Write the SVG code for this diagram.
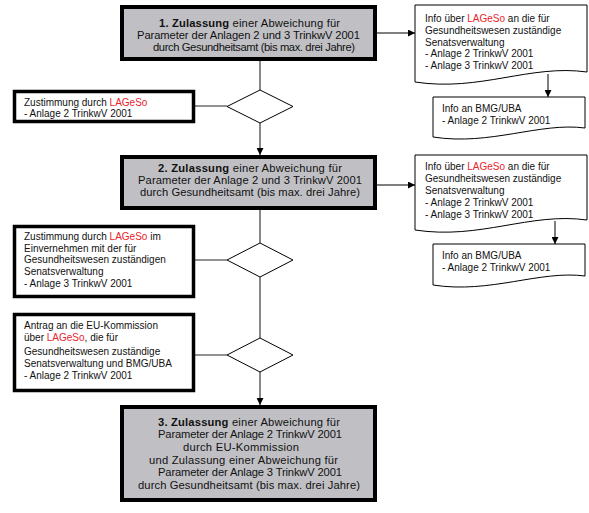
<svg xmlns="http://www.w3.org/2000/svg" width="589" height="513" viewBox="0 0 589 513">
<style>
text{font-family:"Liberation Sans",Arial,sans-serif;font-size:10px;fill:#111}
.m{font-size:11.2px;text-anchor:middle}
.b{font-weight:bold}
.r{fill:#e8252c}
.main{fill:#c0c0c4;stroke:#000;stroke-width:4}
.side{fill:#fff;stroke:#000;stroke-width:3.5}
.doc{fill:#fff;stroke:#000;stroke-width:1}
.dia{fill:#fff;stroke:#000;stroke-width:1}
.v{stroke:#888;stroke-width:2;fill:none}
.h{stroke:#555;stroke-width:1.3;fill:none}
.a{stroke:#000;stroke-width:1;fill:none}
</style>
<defs>
<marker id="ah" viewBox="0 0 10 10" refX="10" refY="5" markerWidth="7" markerHeight="7" markerUnits="userSpaceOnUse" orient="auto">
<path d="M0,0 L10,5 L0,10 Z" fill="#000"/>
</marker>
</defs>
<rect width="589" height="513" fill="#fff"/>
<g id="connectors">
<line class="v" x1="260" y1="61" x2="260" y2="90"/>
<line class="v" x1="260" y1="123" x2="260" y2="155" marker-end="url(#ah)"/>
<line class="v" x1="260" y1="210" x2="260" y2="243"/>
<line class="v" x1="260" y1="277" x2="260" y2="338"/>
<line class="v" x1="260" y1="372" x2="260" y2="405" marker-end="url(#ah)"/>
<line class="h" x1="195" y1="106" x2="227" y2="106"/>
<line class="h" x1="195" y1="260" x2="227" y2="260"/>
<line class="h" x1="195" y1="355" x2="227" y2="355"/>
<line class="a" x1="377" y1="33" x2="415" y2="33" marker-end="url(#ah)"/>
<line class="a" x1="377" y1="185" x2="415" y2="185" marker-end="url(#ah)"/>
<line class="a" x1="548" y1="74" x2="548" y2="97" marker-end="url(#ah)"/>
<line class="a" x1="555" y1="221" x2="555" y2="244" marker-end="url(#ah)"/>
</g>
<g id="box1">
<rect class="main" x="122" y="7" width="253" height="52"/>
<text class="m" x="249.5" y="27" textLength="181"><tspan class="b">1. Zulassung</tspan> einer Abweichung für</text>
<text class="m" x="248.5" y="39" textLength="223">Parameter der Anlagen 2 und 3 TrinkwV 2001</text>
<text class="m" x="254" y="51" textLength="202">durch Gesundheitsamt (bis max. drei Jahre)</text>
</g>
<g id="doc1">
<path class="doc" d="M415,5 H587 V72 C530,64 480,92 415,82 Z"/>
<text x="425" y="22">Info über <tspan class="r">LAGeSo</tspan> an die für</text>
<text x="425" y="34">Gesundheitswesen zuständige</text>
<text x="425" y="46">Senatsverwaltung</text>
<text x="425" y="57">- Anlage 2 TrinkwV 2001</text>
<text x="425" y="69">- Anlage 3 TrinkwV 2001</text>
</g>
<g id="doc2">
<path class="doc" d="M433,97 H585 V128 C540,122 490,146 433,137 Z"/>
<text x="442" y="112">Info an BMG/UBA</text>
<text x="442" y="124">- Anlage 2 TrinkwV 2001</text>
</g>
<g id="dec1">
<path class="dia" d="M260,90 L293,106.5 L260,123 L227,106.5 Z"/>
</g>
<g id="side1">
<rect class="side" x="14.5" y="91.5" width="179" height="30"/>
<text x="24" y="106">Zustimmung durch <tspan class="r">LAGeSo</tspan></text>
<text x="24" y="117">- Anlage 2 TrinkwV 2001</text>
</g>
<g id="box2">
<rect class="main" x="122" y="157" width="253" height="51"/>
<text class="m" x="250" y="172" textLength="184"><tspan class="b">2. Zulassung</tspan> einer Abweichung für</text>
<text class="m" x="250" y="184" textLength="224">Parameter der Anlage 2 und 3 TrinkwV 2001</text>
<text class="m" x="250" y="196" textLength="220">durch Gesundheitsamt (bis max. drei Jahre)</text>
</g>
<g id="doc3">
<path class="doc" d="M415,155 H587 V220 C530,212 480,240 415,230 Z"/>
<text x="425" y="170">Info über <tspan class="r">LAGeSo</tspan> an die für</text>
<text x="425" y="182">Gesundheitswesen zuständige</text>
<text x="425" y="194">Senatsverwaltung</text>
<text x="425" y="206">- Anlage 2 TrinkwV 2001</text>
<text x="425" y="218">- Anlage 3 TrinkwV 2001</text>
</g>
<g id="doc4">
<path class="doc" d="M433,244 H585 V276 C540,270 490,294 433,285 Z"/>
<text x="442" y="259">Info an BMG/UBA</text>
<text x="442" y="271">- Anlage 2 TrinkwV 2001</text>
</g>
<g id="dec2">
<path class="dia" d="M260,243 L293,260 L260,277 L227,260 Z"/>
</g>
<g id="side2">
<rect class="side" x="14.5" y="226.5" width="179" height="70"/>
<text x="24" y="240">Zustimmung durch <tspan class="r">LAGeSo</tspan> im</text>
<text x="24" y="251.5">Einvernehmen mit der für</text>
<text x="24" y="263">Gesundheitswesen zuständigen</text>
<text x="24" y="275">Senatsverwaltung</text>
<text x="24" y="287">- Anlage 3 TrinkwV 2001</text>
</g>
<g id="dec3">
<path class="dia" d="M260,338 L293,355 L260,372 L227,355 Z"/>
</g>
<g id="side3">
<rect class="side" x="14.5" y="314.5" width="179" height="76"/>
<text x="24" y="329">Antrag an die EU-Kommission</text>
<text x="24" y="341">über <tspan class="r">LAGeSo</tspan>, die für</text>
<text x="24" y="355">Gesundheitswesen zuständige</text>
<text x="24" y="367">Senatsverwaltung und BMG/UBA</text>
<text x="24" y="379">- Anlage 2 TrinkwV 2001</text>
</g>
<g id="box3">
<rect class="main" x="122" y="407" width="253" height="93"/>
<text class="m" x="249" y="426" textLength="182"><tspan class="b">3. Zulassung</tspan> einer Abweichung für</text>
<text class="m" x="250" y="438" textLength="184">Parameter der Anlage 2 TrinkwV 2001</text>
<text class="m" x="241" y="451" textLength="116">durch EU-Kommission</text>
<text class="m" x="243.5" y="464" textLength="189">und Zulassung einer Abweichung für</text>
<text class="m" x="250" y="476" textLength="184">Parameter der Anlage 3 TrinkwV 2001</text>
<text class="m" x="249" y="489" textLength="222">durch Gesundheitsamt (bis max. drei Jahre)</text>
</g>
</svg>
